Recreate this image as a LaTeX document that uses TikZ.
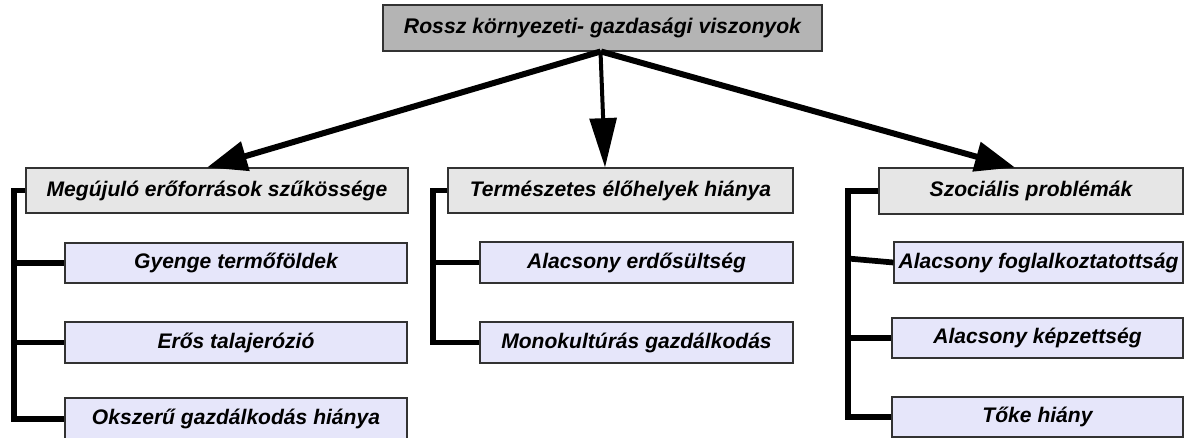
\documentclass[tikz,border=0pt]{standalone}
\usepackage{fontspec}
\setmainfont{Liberation Sans}
\usetikzlibrary{arrows.meta}

\definecolor{topfill}{RGB}{180,180,180}
\definecolor{midfill}{RGB}{230,230,230}
\definecolor{leaffill}{RGB}{230,230,250}
\definecolor{edge}{RGB}{50,50,50}

\tikzset{
  box/.style={draw=edge, line width=0.8pt, rectangle, inner sep=0pt,
    font=\fontsize{15.8}{18}\selectfont\bfseries\itshape, text=black},
  rootbox/.style={box, fill=topfill, font=\fontsize{15.9}{18}\selectfont\bfseries\itshape},
  groupbox/.style={box, fill=midfill},
  leafbox/.style={box, fill=leaffill},
  bracket/.style={line width=4.3pt, black},
  bigarrow/.style={black, -{Triangle[length=30pt,width=22pt]}},
}

\begin{document}
\begin{tikzpicture}[x=0.75pt, y=-0.75pt]
\useasboundingbox (0,0) rectangle (1187,437);
\clip (0,0) rectangle (1187,437);

% root
\node[rootbox, minimum width=329.25pt, minimum height=34.5pt] (root) at (602.5,28)
  {Rossz környezeti- gazdasági viszonyok};

% three groups
\node[groupbox, minimum width=286.5pt, minimum height=33.75pt] (m) at (217,190.5)
  {Megújuló erőforrások szűkössége};
\node[groupbox, minimum width=258.75pt, minimum height=33.75pt] (t) at (620.5,190.5)
  {Természetes élőhelyek hiánya};
\node[groupbox, minimum width=228pt, minimum height=34.5pt] (s) at (1031,191)
  {Szociális problémák};

% left leaves
\node[leafbox, minimum width=256.5pt, minimum height=30pt] (g) at (236,263)
  {Gyenge termőföldek};
\node[leafbox, minimum width=256.5pt, minimum height=30.75pt] (e) at (236,342.5)
  {Erős talajerózió};
\node[leafbox, minimum width=256.5pt, minimum height=31.5pt] (o) at (236,419)
  {Okszerű gazdálkodás hiánya};

% middle leaves
\node[leafbox, minimum width=234.75pt, minimum height=30.75pt] (a) at (636.5,262.5)
  {Alacsony erdősültség};
\node[leafbox, minimum width=234.75pt, minimum height=30.75pt] (mk) at (636.5,342.5)
  {Monokultúrás gazdálkodás};

% right leaves
\node[leafbox, minimum width=216.75pt, minimum height=30.75pt] (f) at (1038.5,262.5)
  {Alacsony foglalkoztatottság};
\node[leafbox, minimum width=218.25pt, minimum height=30pt] (k) at (1037.5,338)
  {Alacsony képzettség};
\node[leafbox, minimum width=218.25pt, minimum height=30pt] (tk) at (1037.5,417)
  {Tőke hiány};

% spines of the brackets
\coordinate (ls) at (14,0);
\coordinate (ms) at (433,0);
\coordinate (rs) at (848,0);

\draw[bracket] (m.west) -- (m.west -| ls) -- (o.west -| ls) -- (o.west);
\draw[bracket] (g.west -| ls) -- (g.west);
\draw[bracket] (e.west -| ls) -- (e.west);

\draw[bracket] (t.west) -- (t.west -| ms) -- (mk.west -| ms) -- (mk.west);
\draw[bracket] (a.west -| ms) -- (a.west);

\draw[bracket] (s.west) -- (s.west -| rs) -- (tk.west -| rs) -- (tk.west);
\draw[bracket] ([yshift=3pt]f.west -| rs) -- (f.west);
\draw[bracket] (k.west -| rs) -- (k.west);

% arrows from the root
\draw[bigarrow, line width=4.5pt] ([xshift=-1.5pt]root.south) -- ([xshift=-7.5pt]m.north);
\draw[black, line width=3pt, -{Triangle[length=37pt,width=20pt]}]
  ([xshift=-1.5pt]root.south) -- ([xshift=-11.6pt]t.north);
\draw[bigarrow, line width=4.5pt] ([xshift=-1pt]root.south) -- ([xshift=-12pt]s.north);
\end{tikzpicture}
\end{document}
